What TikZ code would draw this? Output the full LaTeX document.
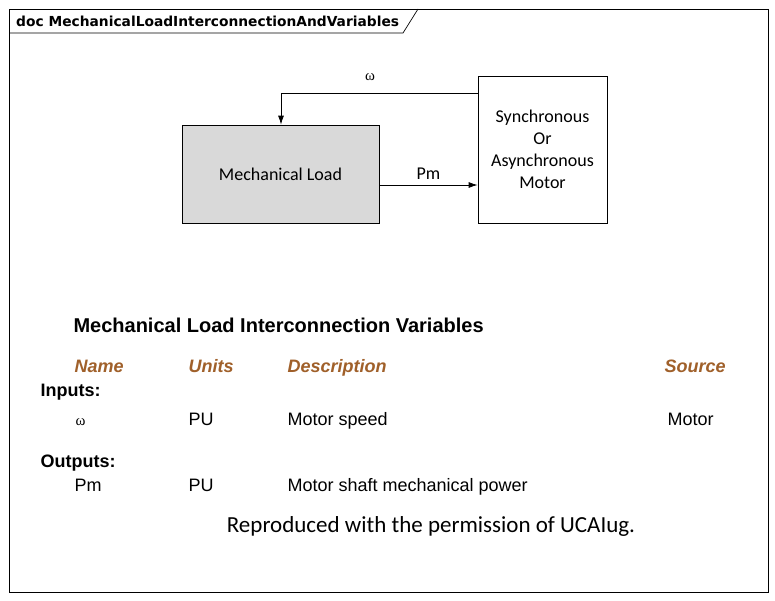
\documentclass[tikz,border=0pt]{standalone}
\usepackage{fontspec}
\setmainfont{Liberation Sans}
\newfontfamily\carl{Carlito}
\newfontfamily\dv{DejaVu Sans}
\newfontfamily\ser{Liberation Serif}
\usetikzlibrary{arrows.meta}
\definecolor{hdr}{HTML}{A0602A}
\begin{document}
\begin{tikzpicture}[x=1pt,y=-1pt,
  blk/.style={draw,line width=0.8pt,minimum width=#1,inner sep=0pt,font=\carl\fontsize{18}{22}\selectfont,align=center},
  arr/.style={-{Latex[length=9pt,width=6pt]},line width=0.8pt},
  hd/.style={anchor=base west,text=hdr,font=\bfseries\itshape\fontsize{18}{21}\selectfont},
  tx/.style={anchor=base west,font=\fontsize{18}{21}\selectfont},
  bl/.style={anchor=base west,font=\bfseries\fontsize{18}{21}\selectfont}]
\useasboundingbox (0,0) rectangle (775,600);
\fill[white] (0,0) rectangle (775,600);
\draw[line width=0.7pt] (9,9) rectangle (768,592);
\draw[line width=0.7pt] (9,33) -- (403,33) -- (418,9);
\node[anchor=west,font=\dv\bfseries\fontsize{13.8}{15}\selectfont,inner sep=0pt] (ttl) at (16,21) {doc MechanicalLoadInterconnectionAndVariables};
\node[blk=197pt,minimum height=98pt,fill=black!15] (load) at (280.5,174) {Mechanical Load};
\node[blk=129pt,minimum height=147pt] (mot) at (542.5,149.5) {Synchronous\\Or\\Asynchronous\\Motor};
\coordinate (c) at (281,93);
\draw[arr] (mot.west|-c) -- (c) -- (load.north-|c);
\draw[arr] (load.east|-0,185) -- node[above=2pt,font=\carl\fontsize{18}{22}\selectfont]{Pm} (mot.west|-0,185);
\node[font=\ser\fontsize{15}{17}\selectfont] (om) at (370,77) {ω};
\node[bl,font=\bfseries\fontsize{20}{23}\selectfont] (t) at (70,332) {Mechanical Load Interconnection Variables};
\node[hd] (h1) at (71,372) {Name};
\node[hd] (h2) at (185,372) {Units};
\node[hd] (h3) at (284,372) {Description};
\node[hd] (h4) at (661,372) {Source};
\node[bl] (in) at (37,396) {Inputs:};
\node[anchor=base west,font=\ser\fontsize{15}{17}\selectfont] (r1a) at (72,425) {ω};
\node[tx] (r1b) at (185,425) {PU};
\node[tx] (r1c) at (284,425) {Motor speed};
\node[tx] (r1d) at (664,425) {Motor};
\node[bl] (out) at (37,467) {Outputs:};
\node[tx] (r2a) at (71,491) {Pm};
\node[tx] (r2b) at (185,491) {PU};
\node[tx] (r2c) at (284,491) {Motor shaft mechanical power};
\node[font=\carl\fontsize{23}{27}\selectfont] (ft) at (431,526) {Reproduced with the permission of UCAIug.};
\end{tikzpicture}
\end{document}
